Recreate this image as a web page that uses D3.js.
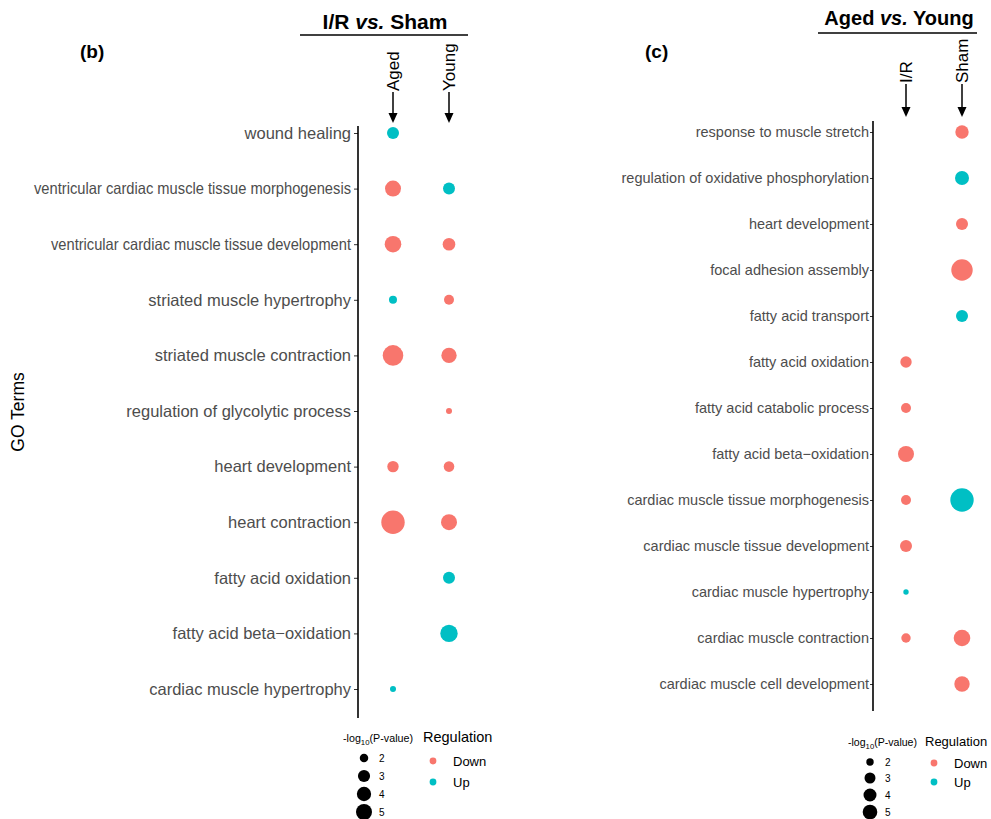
<!DOCTYPE html>
<meta charset="UTF-8">
<head>
<title>GO terms dot plots</title>
<style>
body { margin: 0; background: #fff; }
svg { font-family: "Liberation Sans", Arial, sans-serif; }
.tick text { fill: #4d4d4d; }
.tick line { stroke: #333; }
</style>
</head>
<body>
<script src="https://d3js.org/d3.v7.min.js"></script>
<script>

// ---- panel (b): I/R vs. Sham ----
var termsB = ["wound healing", "ventricular cardiac muscle tissue morphogenesis",
  "ventricular cardiac muscle tissue development", "striated muscle hypertrophy",
  "striated muscle contraction", "regulation of glycolytic process", "heart development",
  "heart contraction", "fatty acid oxidation", "fatty acid beta\u2212oxidation",
  "cardiac muscle hypertrophy"];
var groupsB = ["Aged", "Young"];
var bAgedLogP  = [2.95, 5.0, 5.4, 1.93, 8.6, null, 2.73, 11.5, null, null, 1.8];
var bAgedReg   = ["Up", "Down", "Down", "Up", "Down", null, "Down", "Down", null, null, "Up"];
var bYoungLogP = [null, 2.95, 3.2, 2.31, 4.6, 1.8, 2.48, 5.0, 2.95, 5.96, null];
var bYoungReg  = [null, "Up", "Down", "Down", "Down", "Down", "Down", "Down", "Up", "Up", null];

// ---- panel (c): Aged vs. Young ----
var termsC = ["response to muscle stretch", "regulation of oxidative phosphorylation",
  "heart development", "focal adhesion assembly", "fatty acid transport",
  "fatty acid oxidation", "fatty acid catabolic process", "fatty acid beta\u2212oxidation",
  "cardiac muscle tissue morphogenesis", "cardiac muscle tissue development",
  "cardiac muscle hypertrophy", "cardiac muscle contraction", "cardiac muscle cell development"];
var groupsC = ["I/R", "Sham"];
var cIRLogP   = [null, null, null, null, null, 3.19, 2.64, 6.03, 2.64, 3.47, 1.85, 2.45, null];
var cIRReg    = [null, null, null, null, null, "Down", "Down", "Down", "Down", "Down", "Up", "Down", null];
var cShamLogP = [4.23, 4.6, 3.47, 11.4, 3.47, null, null, null, 13.9, null, null, 6.5, 5.57];
var cShamReg  = ["Down", "Up", "Down", "Down", "Up", null, null, null, "Up", null, null, "Down", "Down"];

// legend keys
var sizeBreaks = [2, 3, 4, 5];
var regLevels = ["Down", "Up"];

var color = d3.scaleOrdinal().domain(regLevels).range(["#F8766D", "#00BFC4"]);

var svg = d3.select("body").append("svg")
    .attr("width", 991)
    .attr("height", 819);

function toRows(terms, group, logp, reg) {
  var out = [];
  terms.forEach(function(t, i) {
    if (logp[i] != null) out.push({term: t, group: group, logp: logp[i], reg: reg[i]});
  });
  return out;
}

function drawPanel(p) {
  var y = d3.scalePoint().domain(p.terms).range(p.yRange);
  var x = d3.scalePoint().domain(p.groups).range(p.xRange);
  // ggplot-like area palette between min and max radius
  var size = d3.scalePow().exponent(0.5)
      .domain([0, p.vMax - p.vMin]).range([p.rMin, p.rMax]);
  var r = function(v) { return size(Math.max(0, v - p.vMin)); };

  var g = svg.append("g");

  // y axis
  var ax = g.append("g")
      .attr("transform", "translate(" + p.axisX + ",0)")
      .call(d3.axisLeft(y).tickSize(p.tickLen).tickPadding(p.tickPad).tickSizeOuter(0));
  ax.select(".domain").remove();
  ax.selectAll(".tick text")
      .style("font-size", p.labelSize + "px")
      .each(function(d) {
        // a couple of long labels are squeezed in the original figure
        if (p.fit && p.fit[d]) {
          d3.select(this).attr("textLength", p.fit[d]).attr("lengthAdjust", "spacingAndGlyphs");
        }
      });
  g.append("line")
      .attr("x1", p.axisX).attr("x2", p.axisX)
      .attr("y1", p.axisY[0]).attr("y2", p.axisY[1])
      .attr("stroke", "#000").attr("stroke-width", 1.6);

  // dots
  g.selectAll("circle.dot")
    .data(p.rows)
    .enter().append("circle")
      .attr("class", "dot")
      .attr("cx", function(d) { return x(d.group); })
      .attr("cy", function(d) { return y(d.term); })
      .attr("r", function(d) { return r(d.logp); })
      .attr("fill", function(d) { return color(d.reg); });

  // header title + underline
  var t = g.append("text")
      .attr("x", p.title.x).attr("y", p.title.y)
      .attr("text-anchor", "middle")
      .style("font-size", p.title.size + "px")
      .style("font-weight", "bold");
  t.append("tspan").text(p.title.a + " ");
  t.append("tspan").style("font-style", "italic").text("vs.");
  t.append("tspan").text(" " + p.title.b);
  g.append("line")
      .attr("x1", p.title.line[0]).attr("x2", p.title.line[1])
      .attr("y1", p.title.lineY).attr("y2", p.title.lineY)
      .attr("stroke", "#000").attr("stroke-width", 1.6);

  // column labels with arrows
  p.groups.forEach(function(gr) {
    var cx = x(gr);
    g.append("text")
        .attr("transform", "translate(" + (cx + 6) + "," + p.colTextY + ") rotate(-90)")
        .attr("text-anchor", "start")
        .style("font-size", "17px")
        .text(gr);
    g.append("line")
        .attr("x1", cx).attr("x2", cx)
        .attr("y1", p.colTextY + 1).attr("y2", p.arrowTip - 8)
        .attr("stroke", "#000").attr("stroke-width", 1.5);
    g.append("path")
        .attr("d", "M" + (cx - 4.5) + "," + (p.arrowTip - 10) + "L" + (cx + 4.5) + "," + (p.arrowTip - 10) +
                   "L" + cx + "," + p.arrowTip + "Z")
        .attr("fill", "#000");
  });

  // panel letter
  g.append("text")
      .attr("x", p.letter.x).attr("y", p.letter.y)
      .style("font-size", "19px").style("font-weight", "bold")
      .text(p.letter.t);

  // legends
  var L = p.legend;
  var lt = g.append("text")
      .attr("x", L.x).attr("y", L.y)
      .attr("textLength", L.sizeTitleW).attr("lengthAdjust", "spacingAndGlyphs")
      .style("font-size", "11px");
  lt.append("tspan").text("-log");
  lt.append("tspan").attr("dy", 3).style("font-size", "8px").text("10");
  lt.append("tspan").attr("dy", -3).text("(P-value)");

  g.selectAll("circle.size-key")
    .data(sizeBreaks)
    .enter().append("circle")
      .attr("class", "size-key")
      .attr("cx", L.dotX)
      .attr("cy", function(d, i) { return L.dotY[i]; })
      .attr("r", r)
      .attr("fill", "#000");
  g.selectAll("text.size-key")
    .data(sizeBreaks)
    .enter().append("text")
      .attr("class", "size-key")
      .attr("x", L.dotX + 15)
      .attr("y", function(d, i) { return L.dotY[i] + 3.5; })
      .style("font-size", "10px")
      .text(function(d) { return d; });

  g.append("text")
      .attr("x", L.regX).attr("y", L.y)
      .style("font-size", L.regTitleSize + "px")
      .text("Regulation");
  g.selectAll("circle.reg-key")
    .data(regLevels)
    .enter().append("circle")
      .attr("class", "reg-key")
      .attr("cx", L.regDotX)
      .attr("cy", function(d, i) { return L.regDotY[i]; })
      .attr("r", 3.4)
      .attr("fill", function(d) { return color(d); });
  g.selectAll("text.reg-key")
    .data(regLevels)
    .enter().append("text")
      .attr("class", "reg-key")
      .attr("x", L.regDotX + 20)
      .attr("y", function(d, i) { return L.regDotY[i] + 4.5; })
      .style("font-size", "13px")
      .text(function(d) { return d; });
}

drawPanel({
  terms: termsB, groups: groupsB,
  rows: toRows(termsB, "Aged", bAgedLogP, bAgedReg).concat(toRows(termsB, "Young", bYoungLogP, bYoungReg)),
  yRange: [133, 689], xRange: [393, 449],
  axisX: 358, axisY: [126, 718], tickLen: 4, tickPad: 3, labelSize: 16.5,
  fit: {"ventricular cardiac muscle tissue morphogenesis": 317,
        "ventricular cardiac muscle tissue development": 300},
  vMin: 1.8, vMax: 11.5, rMin: 3, rMax: 11.7,
  title: {a: "I/R", b: "Sham", x: 385, y: 29, size: 21, line: [300, 468], lineY: 35},
  colTextY: 91, arrowTip: 123,
  letter: {x: 80, y: 58, t: "(b)"},
  legend: {x: 343, y: 742, sizeTitleW: 70, dotX: 364, dotY: [758, 776, 794, 812],
           regX: 423, regTitleSize: 14.5, regDotX: 433, regDotY: [761, 782]}
});

drawPanel({
  terms: termsC, groups: groupsC,
  rows: toRows(termsC, "I/R", cIRLogP, cIRReg).concat(toRows(termsC, "Sham", cShamLogP, cShamReg)),
  yRange: [132, 684], xRange: [906, 962],
  axisX: 873, axisY: [121, 711], tickLen: 3, tickPad: 1, labelSize: 14.5,
  vMin: 1.85, vMax: 13.9, rMin: 2.7, rMax: 11.7,
  title: {a: "Aged", b: "Young", x: 899, y: 25, size: 20, line: [818, 977], lineY: 33},
  colTextY: 83, arrowTip: 117,
  letter: {x: 645, y: 58, t: "(c)"},
  legend: {x: 848, y: 746, sizeTitleW: 69, dotX: 870, dotY: [762, 778, 795, 812],
           regX: 925, regTitleSize: 13, regDotX: 934, regDotY: [763, 782]}
});

// shared y-axis title
svg.append("text")
    .attr("transform", "translate(24,412) rotate(-90)")
    .attr("text-anchor", "middle")
    .style("font-size", "17.5px")
    .text("GO Terms");

</script>
</body>
</html>
